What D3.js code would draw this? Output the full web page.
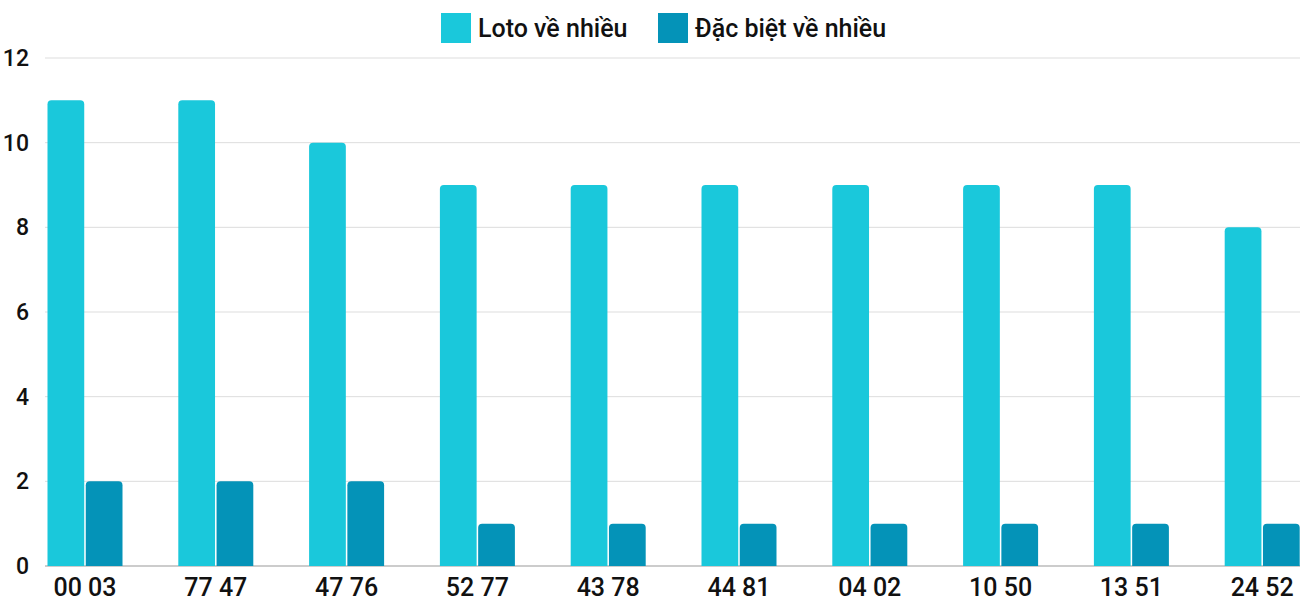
<!DOCTYPE html>
<html><head><meta charset="utf-8">
<script src="https://cdn.jsdelivr.net/npm/d3@7"></script>
<style>body{margin:0;background:#fff}svg{font-family:Roboto,sans-serif}</style>
</head><body><svg id="c" width="1300" height="600"></svg>
<script>
"use strict";
var categories = ["00 03","77 47","47 76","52 77","43 78","44 81","04 02","10 50","13 51","24 52"];
var seriesNames = ["Loto về nhiều","Đặc biệt về nhiều"];
var lotoValues = [11,11,10,9,9,9,9,9,9,8];
var dacBietValues = [2,2,2,1,1,1,1,1,1,1];
var yTicks = [0,2,4,6,8,10,12];
var colors = ["#1ac8db","#0493b8"];

var svg = d3.select("#c");
var y = d3.scaleLinear().domain([0,12]).range([566,58]);
var x0 = d3.scaleBand().domain(categories).range([19.6,1327.6]);
var x1 = d3.scaleBand().domain([0,1]).range([x0.bandwidth()/2-37.5, x0.bandwidth()/2+37.5]).paddingInner(0.04);

// grid + y labels
svg.selectAll(".grid").data(yTicks).enter().append("line")
  .attr("x1",45).attr("x2",1300)
  .attr("y1",function(d){return y(d);}).attr("y2",function(d){return y(d);})
  .attr("stroke",function(d){return d===0?"#999":"#ddd";}).attr("stroke-width",1);
svg.selectAll(".yl").data(yTicks).enter().append("text")
  .attr("x",29).attr("y",function(d){return y(d)+8;})
  .attr("text-anchor","end").attr("font-size",23).attr("font-weight",500).attr("fill","#111")
  .text(function(d){return d;});

function barPath(x,w,top,bottom){
  var r=Math.min(4,bottom-top);
  return "M"+x+","+bottom+"V"+(top+r)+"Q"+x+","+top+" "+(x+r)+","+top+
    "H"+(x+w-r)+"Q"+(x+w)+","+top+" "+(x+w)+","+(top+r)+"V"+bottom+"Z";
}
var data = categories.map(function(c,i){return {cat:c, vals:[lotoValues[i],dacBietValues[i]]};});
var g = svg.selectAll(".grp").data(data).enter().append("g")
  .attr("transform",function(d){return "translate("+x0(d.cat)+",0)";});
g.selectAll("path").data(function(d){return d.vals;}).enter().append("path")
  .attr("fill",function(d,i){return colors[i];})
  .attr("d",function(d,i){return barPath(x1(i),x1.bandwidth(),y(d),y(0));});
g.append("text").attr("x",x0.bandwidth()/2).attr("y",596)
  .attr("text-anchor","middle").attr("font-size",25).attr("font-weight",500).attr("fill","#111")
  .text(function(d){return d.cat;});

// legend
var legX=[441,658];
seriesNames.forEach(function(n,i){
  svg.append("rect").attr("x",legX[i]).attr("y",13).attr("width",30).attr("height",30).attr("fill",colors[i]);
  svg.append("text").attr("x",legX[i]+37).attr("y",37).attr("font-size",25).attr("font-weight",500).attr("fill","#111").text(n);
});
</script></body></html>
